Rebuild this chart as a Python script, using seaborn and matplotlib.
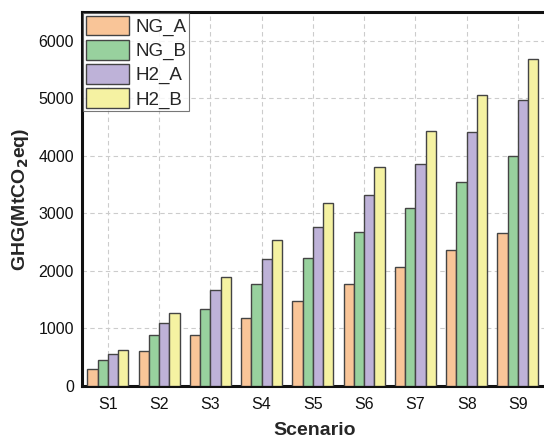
import pandas as pd
import seaborn as sns
import matplotlib.pyplot as plt
from matplotlib.ticker import MultipleLocator

# data
scenarios = ['S1', 'S2', 'S3', 'S4', 'S5', 'S6', 'S7', 'S8', 'S9']
ng_a = [290, 600, 880, 1180, 1470, 1770, 2060, 2360, 2650]
ng_b = [450, 880, 1330, 1770, 2220, 2670, 3100, 3550, 3990]
h2_a = [550, 1100, 1660, 2210, 2760, 3310, 3860, 4420, 4970]
h2_b = [630, 1260, 1890, 2540, 3170, 3800, 4430, 5060, 5690]
series = ['NG_A', 'NG_B', 'H2_A', 'H2_B']
colors = ['#F9C598', '#98D19E', '#BEB2D8', '#F5F2A2']

rows = []
for name, vals in zip(series, [ng_a, ng_b, h2_a, h2_b]):
    for s, v in zip(scenarios, vals):
        rows.append({'Scenario': s, 'Type': name, 'GHG': v})
df = pd.DataFrame(rows)

sns.set_style('white')
plt.rcParams['font.family'] = ['Liberation Sans', 'DejaVu Sans']

fig = plt.figure(figsize=(5.44, 4.41), dpi=100)
ax = fig.add_axes([0.151, 0.125, 0.853, 0.848])

sns.barplot(data=df, x='Scenario', y='GHG', hue='Type', hue_order=series,
            palette=colors, order=scenarios, width=0.8, edgecolor='#444444',
            linewidth=1.0, saturation=1, ax=ax, zorder=3)

ax.set_xlim(-0.5, 8.55)
ax.set_ylim(0, 6500)
ax.yaxis.set_major_locator(MultipleLocator(1000))
ax.yaxis.set_minor_locator(MultipleLocator(500))
ax.set_xticks(range(len(scenarios)), minor=False)
ax.set_xticks([i + 0.5 for i in range(-1, len(scenarios))], minor=True)

ax.grid(True, which='major', linestyle=(0, (4, 3)), color='#cccccc', linewidth=0.8, zorder=0)
ax.set_axisbelow(True)

for side in ['left', 'bottom', 'top']:
    ax.spines[side].set_linewidth(2.2)
    ax.spines[side].set_color('#111111')
ax.spines['right'].set_visible(False)

ax.tick_params(axis='both', which='major', direction='in', length=5, width=2,
               labelsize=11.5, colors='#111111', pad=6)
ax.tick_params(axis='both', which='minor', direction='in', length=3, width=2, colors='#111111')
ax.tick_params(axis='x', which='major', pad=8)
ax.tick_params(right=False, top=False, which='both')

ax.set_xlabel('Scenario', fontsize=14, fontweight='bold', labelpad=7)
ax.set_ylabel(r'GHG(MtCO$_\mathbf{2}$eq)', fontsize=14, fontweight='bold', labelpad=5)

leg = ax.legend(loc='upper left', frameon=True, fontsize=13.5, borderaxespad=0.05,
                handlelength=2.3, handleheight=1.25, handletextpad=0.35,
                labelspacing=0.2, borderpad=0.15, fancybox=False)
leg.get_frame().set_edgecolor('#555555')
leg.get_frame().set_linewidth(0.8)
leg.set_title(None)

fig.savefig('out.png', dpi=100)
